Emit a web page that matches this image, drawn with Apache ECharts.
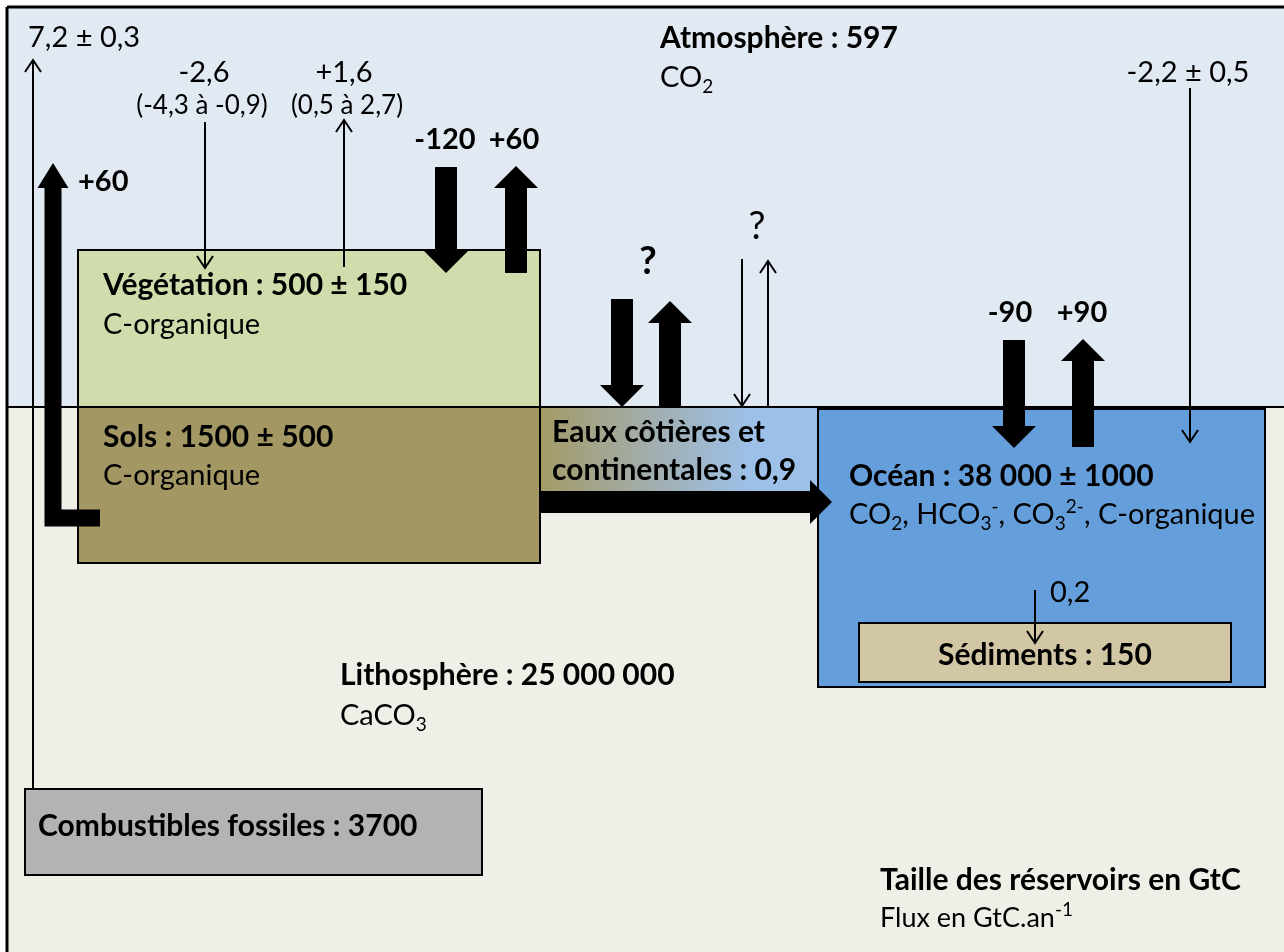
<!DOCTYPE html>
<html>
<head>
<meta charset="utf-8">
<title>Cycle du carbone</title>
<script src="https://cdn.jsdelivr.net/npm/echarts@6/dist/echarts.min.js"></script>
<style>
  html, body { margin: 0; padding: 0; background: #fff; }
  #main { width: 1284px; height: 952px; }
</style>
</head>
<body>
<div id="main"></div>
<script>
var W = 1284, H = 952;

// réservoirs de carbone (GtC)
var reservoirNames = ['Atmosphère', 'Végétation', 'Sols', 'Eaux côtières et\ncontinentales', 'Océan', 'Sédiments', 'Lithosphère', 'Combustibles fossiles'];
var reservoirStocks = ['597', '500 ± 150', '1500 ± 500', '0,9', '38 000 ± 1000', '150', '25 000 000', '3700'];
var reservoirForms = ['CO{s|2}', 'C-organique', 'C-organique', '', 'CO{s|2}, HCO{s|3}{p|-}, CO{s|3}{p|2-}, C-organique', '', 'CaCO{s|3}', ''];

// flux (GtC/an), un par flèche
var fluxLabels = ['7,2 ± 0,3', '+60', '-2,6', '+1,6', '-120', '+60', '?', '', '?', '', '-90', '+90', '-2,2 ± 0,5', '0,2', ''];
var fluxRanges = ['', '', '(-4,3 à -0,9)', '(0,5 à 2,7)', '', '', '', '', '', '', '', '', '', '', ''];

// légende
var legendTexts = ['Taille des réservoirs en GtC', 'Flux en GtC.an{p|-1}'];

// ---- mise en page (coordonnées du schéma) ----
var FONT = 'Lato, "Open Sans", sans-serif';

// fonds + boîtes : x0, y0, x1, y1
var boxLayout = [
  [8, 8, W, 407],        // fond atmosphère
  [8, 407, W, H],        // fond lithosphère
  [78, 250, 540, 407],   // végétation
  [78, 407, 540, 563],   // sols
  [540, 407, 819, 492],  // eaux côtières
  [818, 409, 1265, 687], // océan
  [859, 623, 1231, 682], // sédiments
  [25, 789, 482, 875]    // combustibles fossiles
];
var coastGradient = new echarts.graphic.LinearGradient(0, 0, 1, 0, [
  { offset: 0, color: '#a39a66' },
  { offset: 0.4, color: '#a2aeae' },
  { offset: 0.75, color: '#9dc0e8' },
  { offset: 1, color: '#9dc0e8' }
]);
var boxStyles = [
  { fill: '#e1e9f3' },
  { fill: '#f0efe7' },
  { fill: '#cfdcab', stroke: '#000', lineWidth: 2 },
  { fill: '#a39763', stroke: '#000', lineWidth: 2 },
  { fill: coastGradient, stroke: '#000', lineWidth: 2 },
  { fill: '#659fdb', stroke: '#000', lineWidth: 2 },
  { fill: '#d1c7a5', stroke: '#000', lineWidth: 2 },
  { fill: '#b3b3b3', stroke: '#000', lineWidth: 2 }
];

// traits du cadre et de la surface : x0, y0, x1, y1, épaisseur
var frameLines = [
  [7, 7, W, 7, 3],
  [7, 7, 7, H, 3],
  [7, 407, W, 407, 2]
];

// trajets des flèches et type (fin / large / moyen)
var arrowPaths = [
  [[33, 789], [33, 60]],
  [[100, 518], [53, 518], [53, 163]],
  [[205, 122], [205, 268]],
  [[344, 267], [344, 120]],
  [[446, 167], [446, 273]],
  [[516, 273], [516, 166]],
  [[622, 299], [622, 407]],
  [[670, 407], [670, 301]],
  [[742, 259], [742, 406]],
  [[768, 407], [768, 261]],
  [[1014, 340], [1014, 448]],
  [[1083, 447], [1083, 339]],
  [[1190, 88], [1190, 442]],
  [[1035, 590], [1035, 643]],
  [[540, 502], [832, 502]]
];
var arrowKinds = ['fin', 'moyen', 'fin', 'fin', 'large', 'large', 'large', 'large', 'fin', 'fin', 'large', 'large', 'fin', 'fin', 'large'];
var arrowSizes = {
  fin: { shaft: 2, headW: 16, headL: 12 },
  moyen: { shaft: 17, headW: 31, headL: 25 },
  large: { shaft: 22, headW: 44, headL: 22 }
};

// positions des textes
var titlePos = [[660, 38], [103, 285], [103, 437], [552, 451], [849, 476], [1045, 655, 'center'], [340, 675], [38, 826]];
var formPos = [[660, 78], [103, 325], [103, 476], null, [849, 515], null, [340, 716], null];
var fluxPos = [[28, 38, 'left'], [78, 182, 'left'], [204, 73], [344, 73], [445, 140], [514, 140],
  [648, 262], null, [757, 227], null, [1010, 313], [1082, 313], [1188, 73], [1050, 593, 'left'], null];
var rangePos = [null, null, [202, 106], [347, 106]];
var fluxBold = [0, 1, 0, 0, 1, 1, 1, 0, 0, 0, 1, 1, 0, 0, 0];
var fluxSize = [29, 29, 29, 29, 29, 29, 38, 29, 38, 29, 29, 29, 29, 29, 29];
var legendPos = [[880, 880, 'bold'], [880, 918, 'normal']];

// ---- construction des textes ----
var rich = {
  s: { fontFamily: FONT, fontSize: 19, lineHeight: 15, verticalAlign: 'bottom' },
  p: { fontFamily: FONT, fontSize: 19, lineHeight: 15, verticalAlign: 'top' }
};
var texts = [];
function addText(str, pos, weight, size, align) {
  texts.push({ text: str, x: pos[0], y: pos[1], weight: weight, size: size, align: pos[2] || align || 'left' });
}
reservoirNames.forEach(function (name, i) {
  addText(name + ' : ' + reservoirStocks[i], titlePos[i], 'bold', 30);
  if (reservoirForms[i]) addText(reservoirForms[i], formPos[i], 'normal', 29);
});
fluxLabels.forEach(function (lab, i) {
  if (lab) addText(lab, fluxPos[i], fluxBold[i] ? 'bold' : 'normal', fluxSize[i], 'center');
  if (fluxRanges[i]) addText(fluxRanges[i], rangePos[i], 'normal', 26, 'center');
});
legendTexts.forEach(function (t, i) {
  addText(t, legendPos[i], legendPos[i][2], legendPos[i][2] === 'bold' ? 30 : 27);
});

// ---- rendu ----
function renderBox(params, api) {
  var i = api.value(4);
  var p0 = api.coord([api.value(0), api.value(1)]);
  var p1 = api.coord([api.value(2), api.value(3)]);
  return {
    type: 'rect',
    shape: { x: p0[0], y: p0[1], width: p1[0] - p0[0], height: p1[1] - p0[1] },
    style: boxStyles[i]
  };
}

function renderLine(params, api) {
  var p0 = api.coord([api.value(0), api.value(1)]);
  var p1 = api.coord([api.value(2), api.value(3)]);
  return {
    type: 'line',
    shape: { x1: p0[0], y1: p0[1], x2: p1[0], y2: p1[1] },
    style: { stroke: '#000', lineWidth: api.value(4) }
  };
}

function renderArrow(params, api) {
  var i = api.value(2);
  var pts = arrowPaths[i].map(function (p) { return api.coord(p); });
  var sz = arrowSizes[arrowKinds[i]];
  var tip = pts[pts.length - 1], prev = pts[pts.length - 2];
  var dx = tip[0] - prev[0], dy = tip[1] - prev[1];
  var len = Math.sqrt(dx * dx + dy * dy);
  dx /= len; dy /= len;
  var nx = -dy, ny = dx;
  var base = [tip[0] - dx * sz.headL, tip[1] - dy * sz.headL];
  var left = [base[0] + nx * sz.headW / 2, base[1] + ny * sz.headW / 2];
  var right = [base[0] - nx * sz.headW / 2, base[1] - ny * sz.headW / 2];
  if (arrowKinds[i] === 'fin') {
    return {
      type: 'group',
      children: [
        { type: 'polyline', shape: { points: pts }, style: { stroke: '#000', lineWidth: 2, fill: null } },
        { type: 'polyline', shape: { points: [left, tip, right] }, style: { stroke: '#000', lineWidth: 2, fill: null } }
      ]
    };
  }
  var shaft = pts.slice(0, pts.length - 1).concat([base]);
  return {
    type: 'group',
    children: [
      { type: 'polyline', shape: { points: shaft }, style: { stroke: '#000', lineWidth: sz.shaft, lineCap: 'butt', lineJoin: 'miter', fill: null } },
      { type: 'polygon', shape: { points: [left, tip, right] }, style: { fill: '#000' } }
    ]
  };
}

function renderText(params, api) {
  var t = texts[api.value(2)];
  var p = api.coord([api.value(0), api.value(1)]);
  return {
    type: 'text',
    x: p[0],
    y: p[1],
    style: {
      text: t.text,
      fill: '#000',
      fontFamily: FONT,
      fontWeight: t.weight,
      fontSize: t.size,
      lineHeight: t.text.indexOf('\n') >= 0 ? 38 : 36,
      align: t.align,
      verticalAlign: 'middle',
      rich: rich
    }
  };
}

var myChart = echarts.init(document.getElementById('main'), null, { renderer: 'canvas' });
myChart.setOption({
  animation: false,
  backgroundColor: '#fff',
  grid: { left: 0, right: 0, top: 0, bottom: 0 },
  xAxis: { type: 'value', min: 0, max: W, show: false },
  yAxis: { type: 'value', min: 0, max: H, inverse: true, show: false },
  series: [
    {
      type: 'custom', silent: true, z: 1,
      renderItem: renderBox,
      data: boxLayout.slice(0, 2).map(function (b, i) { return b.concat(i); })
    },
    {
      type: 'custom', silent: true, z: 2,
      renderItem: renderLine,
      data: frameLines
    },
    {
      type: 'custom', silent: true, z: 3,
      renderItem: renderBox,
      data: boxLayout.slice(2).map(function (b, i) { return b.concat(i + 2); })
    },
    {
      type: 'custom', silent: true, z: 4,
      renderItem: renderArrow,
      data: arrowPaths.map(function (p, i) { return [p[0][0], p[0][1], i]; })
    },
    {
      type: 'custom', silent: true, z: 5,
      renderItem: renderText,
      data: texts.map(function (t, i) { return [t.x, t.y, i]; })
    }
  ]
});
</script>
</body>
</html>
